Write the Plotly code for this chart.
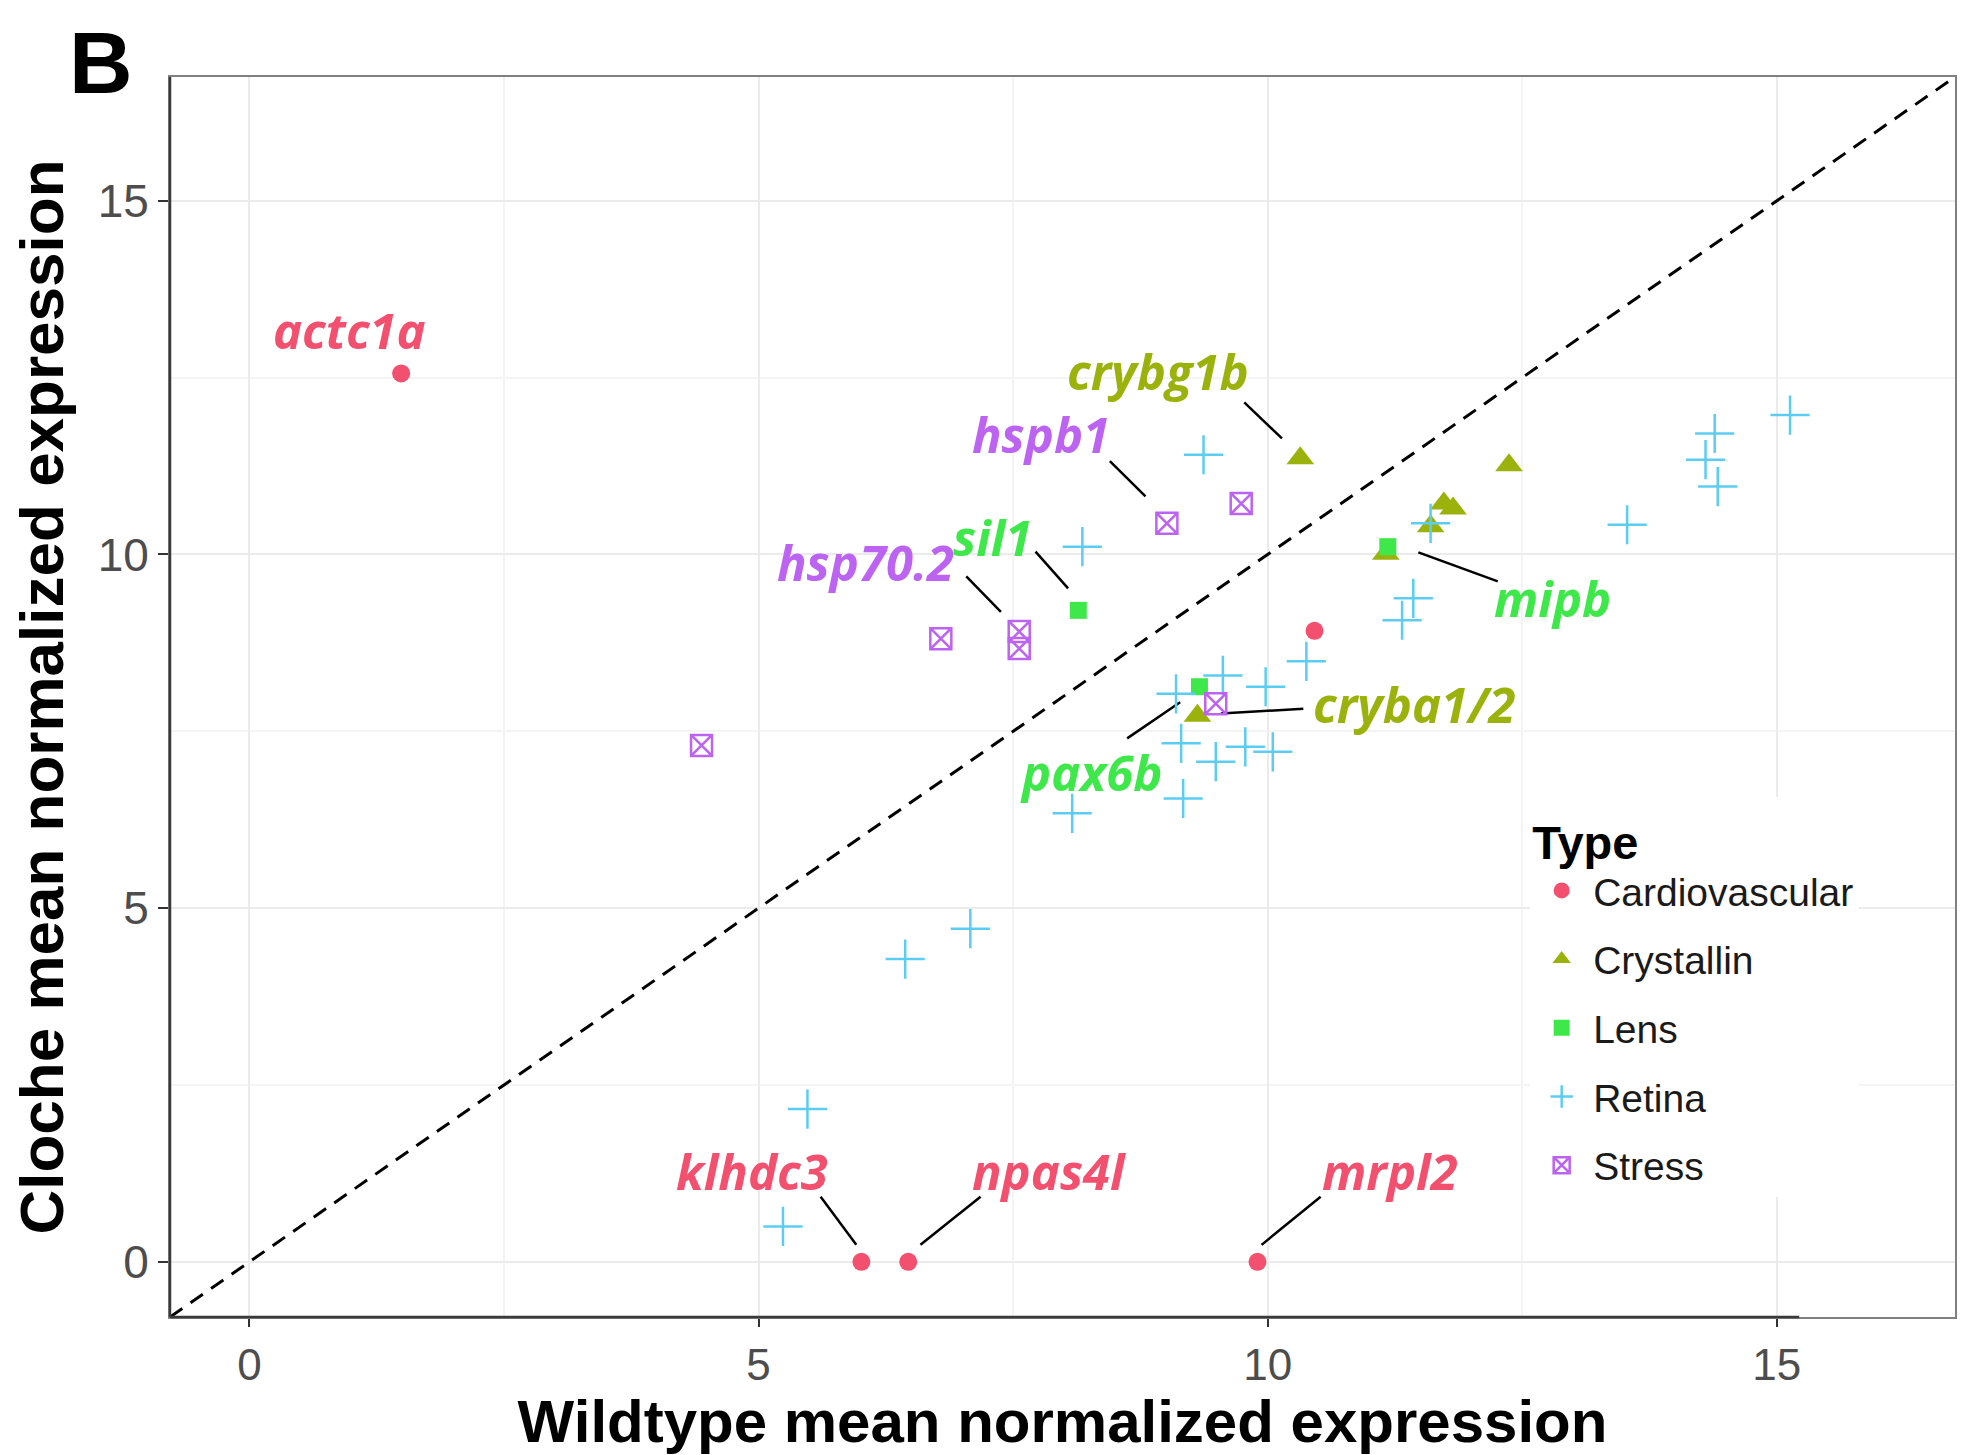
import plotly.graph_objects as go

# ---------------- data ----------------
types = ["Cardiovascular", "Crystallin", "Lens", "Retina", "Stress"]

cardio_x = [1.49, 10.46, 6.01, 6.47, 9.90]
cardio_y = [12.56, 8.92, 0.0, 0.0, 0.0]

crystallin_x = [10.32, 12.37, 11.73, 11.82, 11.60, 11.16, 9.31]
crystallin_y = [11.36, 11.26, 10.72, 10.65, 10.40, 10.01, 7.72]

lens_x = [8.14, 11.18, 9.33]
lens_y = [9.21, 10.11, 8.13]

retina_x = [5.24, 5.48, 6.44, 7.08, 8.08, 9.17, 9.15, 9.49, 9.78, 10.05, 9.10, 9.56,
            9.98, 10.38, 11.32, 11.43, 8.18, 9.37, 11.60, 13.53, 14.30, 14.39, 14.42, 15.13]
retina_y = [0.50, 2.16, 4.28, 4.71, 6.34, 6.55, 7.33, 7.07, 7.28, 7.21, 8.03, 8.29,
            8.13, 8.49, 9.07, 9.38, 10.11, 11.41, 10.44, 10.42, 11.34, 11.71, 10.96, 11.97]

stress_x = [4.44, 6.79, 7.56, 7.56, 9.01, 9.74, 9.49]
stress_y = [7.30, 8.81, 8.91, 8.67, 10.44, 10.72, 7.89]

# gene labels (text, type, label position, leader segment start/end)
label_text = ["actc1a", "crybg1b", "hspb1", "sil1", "hsp70.2", "mipb",
              "cryba1/2", "pax6b", "klhdc3", "npas4l", "mrpl2"]
label_type = ["Cardiovascular", "Crystallin", "Stress", "Lens", "Stress", "Lens",
              "Crystallin", "Lens", "Cardiovascular", "Cardiovascular", "Cardiovascular"]
label_x = [0.98, 8.92, 7.77, 7.30, 6.05, 12.80, 11.44, 8.26, 4.94, 7.85, 11.20]
label_y = [13.18, 12.59, 11.71, 10.25, 9.90, 9.38, 7.89, 6.93, 1.29, 1.29, 1.29]
seg_x0 = [None, 9.77, 8.45, 7.72, 7.04, 12.26, 10.35, 8.62, 5.61, 7.18, 10.52]
seg_y0 = [None, 12.15, 11.32, 10.04, 9.69, 9.62, 7.82, 7.40, 0.92, 0.92, 0.92]
seg_x1 = [None, 10.14, 8.80, 8.04, 7.38, 11.48, 9.54, 9.14, 5.96, 6.59, 9.94]
seg_y1 = [None, 11.64, 10.82, 9.52, 9.19, 10.03, 7.75, 7.91, 0.24, 0.24, 0.24]

x_ticks = [0, 5, 10, 15]
y_ticks = [0, 5, 10, 15]
axis_range = [-0.78, 16.75]

# ---------------- styles ----------------
colors = {
    "Cardiovascular": "#F2506E",
    "Crystallin": "#9CB20C",
    "Lens": "#3FE84A",
    "Retina": "#5CCDF2",
    "Stress": "#BD63F2",
}

fig = go.Figure()

# identity line
fig.add_trace(go.Scatter(
    x=axis_range, y=axis_range, mode="lines",
    line=dict(color="black", width=3, dash="15px,10px"),
    showlegend=False, hoverinfo="skip"))

# leader segments
lx, ly = [], []
for a, b, c, d in zip(seg_x0, seg_y0, seg_x1, seg_y1):
    if a is None:
        continue
    lx += [a, c, None]
    ly += [b, d, None]
fig.add_trace(go.Scatter(x=lx, y=ly, mode="lines",
                         line=dict(color="black", width=2.5),
                         showlegend=False, hoverinfo="skip"))

fig.add_trace(go.Scatter(
    x=cardio_x, y=cardio_y, mode="markers", name="Cardiovascular",
    legendgroup="a",
    marker=dict(symbol="circle", size=18, color=colors["Cardiovascular"])))
fig.add_trace(go.Scatter(
    x=crystallin_x, y=crystallin_y, mode="markers", name="Crystallin",
    legendgroup="b",
    marker=dict(symbol="triangle-up", size=24, color=colors["Crystallin"])))
fig.add_trace(go.Scatter(
    x=lens_x, y=lens_y, mode="markers", name="Lens",
    legendgroup="c",
    marker=dict(symbol="square", size=17, color=colors["Lens"])))
fig.add_trace(go.Scatter(
    x=retina_x, y=retina_y, mode="markers", name="Retina",
    legendgroup="d",
    marker=dict(symbol="cross-thin", size=28, color=colors["Retina"],
                line=dict(color=colors["Retina"], width=2.5))))
fig.add_trace(go.Scatter(
    x=stress_x, y=stress_y, mode="markers", name="Stress",
    legendgroup="e",
    marker=dict(symbol="square-x-open", size=21, color=colors["Stress"],
                line=dict(color=colors["Stress"], width=2.5))))

annotations = []
for t, ty, x, y in zip(label_text, label_type, label_x, label_y):
    annotations.append(dict(
        x=x, y=y, xref="x", yref="y", text=t, showarrow=False,
        xanchor="center", yanchor="middle",
        font=dict(family="Open Sans", size=49, color=colors[ty],
                  weight="bold", style="italic")))

annotations.append(dict(
    x=-0.0386, y=1.012, xref="paper", yref="paper", text="B", showarrow=False,
    xanchor="center", yanchor="middle",
    font=dict(family="Liberation Sans", size=88, color="black", weight="bold")))

grid_major = "#EBEBEB"
grid_minor = "#F4F4F4"

fig.update_layout(
    width=1961, height=1455,
    margin=dict(l=170, r=4, t=77, b=138),
    paper_bgcolor="white", plot_bgcolor="white",
    annotations=annotations,
    legend=dict(
        title=dict(text="<b>Type</b>", font=dict(family="Liberation Sans", size=47, color="black")),
        font=dict(family="Liberation Sans", size=39, color="#1a1a1a"),
        x=0.762, y=0.419, xanchor="left", yanchor="top",
        bgcolor="white", tracegroupgap=15, itemsizing="trace", itemwidth=53,
    ),
    xaxis=dict(
        range=axis_range, tickvals=x_ticks, ticktext=[str(v) for v in x_ticks],
        showgrid=True, gridcolor=grid_major, gridwidth=2,
        minor=dict(dtick=2.5, showgrid=True, gridcolor=grid_minor, gridwidth=1.5, tick0=0),
        zeroline=False, showline=True, linecolor="#808080", linewidth=2, mirror=True,
        ticks="outside", ticklen=8, tickwidth=2, tickcolor="#333333",
        tickfont=dict(family="Liberation Sans", size=44, color="#4D4D4D"),
        title=dict(text="<b>Wildtype mean normalized expression</b>",
                   font=dict(family="Liberation Sans", size=60, color="black"),
                   standoff=2),
    ),
    yaxis=dict(
        range=axis_range, tickvals=y_ticks, ticktext=[str(v) for v in y_ticks],
        showgrid=True, gridcolor=grid_major, gridwidth=2,
        minor=dict(dtick=2.5, showgrid=True, gridcolor=grid_minor, gridwidth=1.5, tick0=0),
        zeroline=False, showline=True, linecolor="#808080", linewidth=2, mirror=True,
        ticks="outside", ticklen=10, tickwidth=2, tickcolor="#333333",
        tickfont=dict(family="Liberation Sans", size=46, color="#4D4D4D"),
        title=dict(text="<b>Cloche mean normalized expression</b>",
                   font=dict(family="Liberation Sans", size=62, color="black"),
                   standoff=14),
    ),
)

# darker axis lines (left full height, bottom partial as in the original)
fig.add_shape(type="line", xref="paper", yref="paper", x0=0, x1=0, y0=0, y1=1,
              line=dict(color="#3a3a3a", width=2.5))
fig.add_shape(type="line", xref="x", yref="paper", x0=axis_range[0], x1=15.22, y0=0, y1=0,
              line=dict(color="#3a3a3a", width=2.5))

fig.write_html("out.html")
